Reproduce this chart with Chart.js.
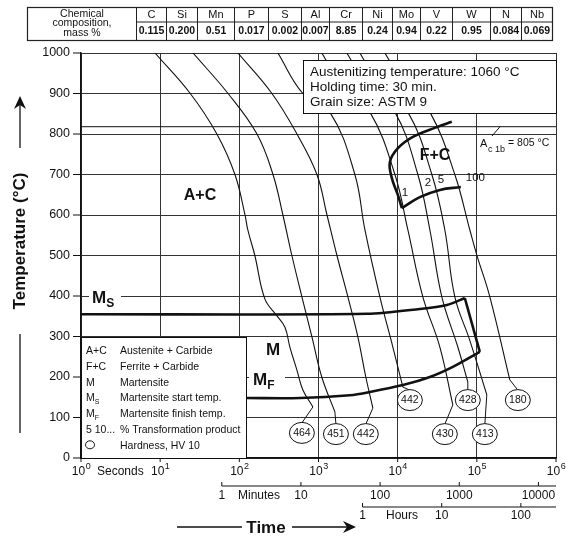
<!DOCTYPE html>
<html>
<head>
<meta charset="utf-8">
<script src="https://cdn.jsdelivr.net/npm/chart.js@4.4.1/dist/chart.umd.min.js"></script>
<style>
  html, body { margin: 0; padding: 0; background: #fff; }
  canvas { display: block; }
</style>
</head>
<body>
<canvas id="cct" width="567" height="538"></canvas>
<script>
// chemical composition table
const elements = ['C', 'Si', 'Mn', 'P', 'S', 'Al', 'Cr', 'Ni', 'Mo', 'V', 'W', 'N', 'Nb'];
const massPct = ['0.115', '0.200', '0.51', '0.017', '0.002', '0.007', '8.85', '0.24', '0.94', '0.22', '0.95', '0.084', '0.069'];

// axes
const tempTicks = [0, 100, 200, 300, 400, 500, 600, 700, 800, 900, 1000];
const timeDecades = [1, 10, 100, 1000, 10000, 100000, 1000000];
const minuteTicks = [1, 10, 100, 1000, 10000];
const hourTicks = [1, 10, 100];

// cooling curves, time in s, temperature in °C
const c464Time = [8.6, 24, 52, 88, 118, 128, 157, 210, 299, 377, 435, 534, 635, 850];
const c464Temp = [1000, 900, 800, 700, 600, 563, 500, 393, 351, 323, 274, 217, 168, 126];
const c451Time = [26, 72, 167, 266, 355, 461, 617, 826, 1100, 1610];
const c451Temp = [1000, 900, 800, 700, 600, 500, 398, 299, 200, 114];
const c442aTime = [96, 258, 534, 955, 1280, 1710, 2350, 3140, 3960, 4860];
const c442aTemp = [1000, 900, 800, 700, 600, 500, 398, 299, 200, 123];
const c442bTime = [307, 635, 1390, 2880, 3860, 5960, 8690, 11640];
const c442bTemp = [1000, 900, 854, 700, 563, 398, 274, 175];
const c430Time = [1100, 2280, 4460, 9230, 13460, 20800, 34120, 49770];
const c430Temp = [1000, 900, 854, 700, 563, 398, 274, 131];
const c428Time = [2280, 4720, 9230, 17990, 25530, 36140, 57540, 76920];
const c428Temp = [1000, 900, 854, 700, 563, 398, 274, 188];
const c413Time = [3330, 6890, 13460, 27040, 39440, 52720, 81660, 133700];
const c413Temp = [1000, 900, 854, 700, 563, 398, 290, 156];
const c180Time = [6890, 14260, 25530, 52720, 81660, 100000, 145900, 261000];
const c180Temp = [1000, 900, 854, 700, 563, 501, 398, 193];

// hardness HV 10 at the end of each curve
const hvValues = ['464', '451', '442', '442', '430', '428', '413', '180'];
const hvTime = [617, 1660, 3960, 14260, 39440, 76920, 126200, 329600];
const hvTemp = [62, 59, 59, 143, 59, 143, 59, 143];

// ferrite + carbide region
const fcStartTime = [48300, 31260, 15560, 10070, 7980, 8450, 10070, 11300];
const fcStartTemp = [830, 817, 793, 765, 731, 691, 649, 617];
const fcEndTime = [11300, 19050, 34120, 62800];
const fcEndTemp = [617, 644, 662, 669];
const pctLabels = ['1', '2', '5', '100'];
const pctTime = [11300, 22030, 32200, 72600];
const pctTemp = [654, 679, 686, 691];

// martensite start / finish
const msTime = [1, 4083, 19050, 41780, 70470];
const msTemp = [355, 356, 368, 378, 395];
const msEdgeTime = [70470, 109100];
const msEdgeTemp = [395, 262];
const mfTime = [109100, 49770, 25530, 11640, 4457, 2489, 582, 125];
const mfTemp = [262, 225, 200, 180, 163, 155, 148, 148];

const ac1bTime = [1, 1000000];
const ac1bTemp = [818, 818];

const FONT = "'Liberation Sans', Arial, sans-serif";

function pts(t, T) {
    return t.map((v, i) => ({ x: v, y: T[i] }));
}

function line(t, T, width, tension) {
    return {
        data: pts(t, T),
        borderColor: '#111',
        borderWidth: width,
        pointRadius: 0,
        tension: tension,
        fill: false
    };
}

const curves = [
    [c464Time, c464Temp], [c451Time, c451Temp], [c442aTime, c442aTemp], [c442bTime, c442bTemp],
    [c430Time, c430Temp], [c428Time, c428Temp], [c413Time, c413Temp], [c180Time, c180Temp]
];

const datasets = curves.map(c => line(c[0], c[1], 1.1, 0.4));
datasets.push(line(ac1bTime, ac1bTemp, 1, 0));
datasets.push(line(fcStartTime, fcStartTemp, 2.6, 0.4));
datasets.push(line(fcEndTime, fcEndTemp, 2.6, 0.4));
datasets.push(line(msTime, msTemp, 2.6, 0.3));
datasets.push(line(msEdgeTime, msEdgeTemp, 2.6, 0));
datasets.push(line(mfTime, mfTemp, 2.6, 0.3));

function txt(ctx, s, x, y, font, align, base) {
    ctx.font = font;
    ctx.textAlign = align || 'left';
    ctx.textBaseline = base || 'alphabetic';
    ctx.fillText(s, x, y);
}

// main letter followed by a lowered subscript
function sub(ctx, main, small, x, y, size, weight) {
    ctx.font = weight + ' ' + size + 'px ' + FONT;
    ctx.textAlign = 'left';
    ctx.textBaseline = 'alphabetic';
    ctx.fillText(main, x, y);
    const w = ctx.measureText(main).width;
    ctx.font = weight + ' ' + Math.round(size * 0.68) + 'px ' + FONT;
    ctx.fillText(small, x + w, y + size * 0.25);
}

function seg(ctx, x1, y1, x2, y2, w) {
    ctx.lineWidth = w || 1;
    ctx.beginPath();
    ctx.moveTo(x1, y1);
    ctx.lineTo(x2, y2);
    ctx.stroke();
}

const decorPlugin = {
    id: 'decor',
    afterDraw(chart) {
        const ctx = chart.ctx;
        const xs = chart.scales.x, ys = chart.scales.y;
        const area = chart.chartArea;
        ctx.save();
        ctx.fillStyle = '#111';
        ctx.strokeStyle = '#111';

        // y tick marks and labels
        tempTicks.forEach(v => {
            const y = ys.getPixelForValue(v);
            seg(ctx, area.left - 8, y, area.left, y, 1);
            txt(ctx, String(v), area.left - 11, y, '12.5px ' + FONT, 'right', 'middle');
        });

        // x decade labels 10^n
        timeDecades.forEach((v, i) => {
            const x = xs.getPixelForValue(v);
            seg(ctx, x, area.bottom, x, area.bottom + 4, 1);
            ctx.font = '12px ' + FONT;
            const w1 = ctx.measureText('10').width;
            ctx.font = '9px ' + FONT;
            const w2 = ctx.measureText(String(i)).width;
            const x0 = x - (w1 + w2) / 2;
            txt(ctx, '10', x0, 475, '12px ' + FONT);
            txt(ctx, String(i), x0 + w1 + 0.5, 469, '9px ' + FONT);
        });
        txt(ctx, 'Seconds', 97, 475, '12px ' + FONT);

        // minutes scale
        const mY = 486;
        seg(ctx, xs.getPixelForValue(60), mY, area.right, mY, 1);
        minuteTicks.forEach(m => {
            const x = xs.getPixelForValue(m * 60);
            seg(ctx, x, mY - 4, x, mY, 1);
            txt(ctx, String(m), x, 499, '12px ' + FONT, 'center');
        });
        txt(ctx, 'Minutes', 238, 499, '12px ' + FONT);

        // hours scale
        const hY = 507;
        seg(ctx, xs.getPixelForValue(3600), hY, area.right, hY, 1);
        hourTicks.forEach(h => {
            const x = xs.getPixelForValue(h * 3600);
            seg(ctx, x, hY - 4, x, hY, 1);
            txt(ctx, String(h), x, 519, '12px ' + FONT, 'center');
        });
        txt(ctx, 'Hours', 386, 519, '12px ' + FONT);

        // Time arrow
        txt(ctx, 'Time', 266, 533, 'bold 17px ' + FONT, 'center');
        seg(ctx, 177, 527, 242, 527, 1.3);
        seg(ctx, 292, 527, 348, 527, 1.3);
        ctx.beginPath();
        ctx.moveTo(356, 527); ctx.lineTo(343, 521); ctx.lineTo(347, 527); ctx.lineTo(343, 533);
        ctx.closePath(); ctx.fill();

        // Temperature axis title
        ctx.save();
        ctx.translate(20, 241);
        ctx.rotate(-Math.PI / 2);
        txt(ctx, 'Temperature (°C)', 0, 0, 'bold 17px ' + FONT, 'center', 'middle');
        ctx.restore();
        seg(ctx, 20, 148, 20, 104, 1.3);
        ctx.beginPath();
        ctx.moveTo(20, 96); ctx.lineTo(14, 109); ctx.lineTo(20, 105); ctx.lineTo(26, 109);
        ctx.closePath(); ctx.fill();
        seg(ctx, 20, 334, 20, 433, 1.3);

        // composition table
        const tl = 27, tr = 552, tt = 7, tm = 22, tb = 40;
        const cols = [136, 166, 197, 234, 268, 301, 329, 362, 392, 420, 452, 490, 521, 552];
        ctx.strokeStyle = '#222';
        ctx.lineWidth = 1.2;
        ctx.strokeRect(tl + 0.5, tt + 0.5, tr - tl, tb - tt);
        seg(ctx, cols[0], tm, tr, tm, 1);
        cols.slice(0, -1).forEach(x => seg(ctx, x + 0.5, tt, x + 0.5, tb, 1));
        txt(ctx, 'Chemical', 82, 14, '10.5px ' + FONT, 'center', 'middle');
        txt(ctx, 'composition,', 82, 23.5, '10.5px ' + FONT, 'center', 'middle');
        txt(ctx, 'mass %', 82, 33, '10.5px ' + FONT, 'center', 'middle');
        elements.forEach((e, i) => {
            const cx = (cols[i] + cols[i + 1]) / 2 + 0.5;
            txt(ctx, e, cx, 15, '11px ' + FONT, 'center', 'middle');
            txt(ctx, massPct[i], cx, 31.5, 'bold 10.5px ' + FONT, 'center', 'middle');
        });
        ctx.strokeStyle = '#111';

        // hardness leaders and circles
        curves.forEach((c, i) => {
            const n = c[0].length - 1;
            const x1 = xs.getPixelForValue(c[0][n]), y1 = ys.getPixelForValue(c[1][n]);
            const cx = xs.getPixelForValue(hvTime[i]), cy = ys.getPixelForValue(hvTemp[i]);
            seg(ctx, x1, y1, cx, cy - 10, 1);
        });
        hvValues.forEach((v, i) => {
            const cx = xs.getPixelForValue(hvTime[i]), cy = ys.getPixelForValue(hvTemp[i]);
            ctx.beginPath();
            ctx.ellipse(cx, cy, 12.5, 10.5, 0, 0, Math.PI * 2);
            ctx.fillStyle = '#fff';
            ctx.fill();
            ctx.lineWidth = 1;
            ctx.stroke();
            ctx.fillStyle = '#111';
            txt(ctx, v, cx, cy + 0.5, '10.5px ' + FONT, 'center', 'middle');
        });

        // info box
        ctx.fillStyle = '#fff';
        ctx.fillRect(303, 60, 253, 53);
        ctx.lineWidth = 1;
        ctx.strokeRect(303.5, 60.5, 253, 53);
        ctx.fillStyle = '#111';
        txt(ctx, 'Austenitizing temperature: 1060 °C', 310, 72, '13.5px ' + FONT, 'left', 'middle');
        txt(ctx, 'Holding time: 30 min.', 310, 87, '13.5px ' + FONT, 'left', 'middle');
        txt(ctx, 'Grain size: ASTM 9', 310, 102, '13.5px ' + FONT, 'left', 'middle');

        // Ac1b label
        seg(ctx, 492, 136, 500, ys.getPixelForValue(ac1bTemp[0]), 1);
        txt(ctx, 'A', 480, 147, '11px ' + FONT);
        txt(ctx, 'c 1b', 488, 152, '9px ' + FONT);
        txt(ctx, '= 805 °C', 508, 146, '10.5px ' + FONT);

        // region labels
        txt(ctx, 'A+C', 200, 196, 'bold 16px ' + FONT, 'center', 'middle');
        txt(ctx, 'F+C', 435, 156, 'bold 16px ' + FONT, 'center', 'middle');
        pctLabels.forEach((p, i) => {
            txt(ctx, p, xs.getPixelForValue(pctTime[i]), ys.getPixelForValue(pctTemp[i]), '11.5px ' + FONT, 'left', 'middle');
        });
        ctx.fillStyle = '#fff';
        ctx.fillRect(89, 288, 32, 20);
        ctx.fillRect(249, 368, 36, 20);
        ctx.fillStyle = '#111';
        sub(ctx, 'M', 'S', 92, 303, 17, 'bold');
        sub(ctx, 'M', 'F', 253, 385, 17, 'bold');
        txt(ctx, 'M', 273, 355, 'bold 17px ' + FONT, 'center');

        // legend box
        ctx.fillStyle = '#fff';
        ctx.fillRect(area.left, 337, 166, area.bottom - 337);
        ctx.lineWidth = 1;
        ctx.strokeRect(area.left + 0.5, 337.5, 165, area.bottom - 337);
        ctx.fillStyle = '#111';
        const lf = '10.5px ' + FONT;
        const rows = [
            ['A+C', 'Austenite + Carbide'],
            ['F+C', 'Ferrite + Carbide'],
            ['M', 'Martensite'],
            ['MS', 'Martensite start temp.'],
            ['MF', 'Martensite finish temp.'],
            ['5 10...', '% Transformation product'],
            ['o', 'Hardness, HV 10']
        ];
        rows.forEach((r, i) => {
            const y = 354 + i * 15.8;
            if (r[0] === 'MS' || r[0] === 'MF') {
                sub(ctx, 'M', r[0][1], 86, y, 10.5, '');
            } else if (r[0] === 'o') {
                ctx.beginPath();
                ctx.ellipse(90, y - 4, 4.5, 4, 0, 0, Math.PI * 2);
                ctx.lineWidth = 1;
                ctx.stroke();
            } else {
                txt(ctx, r[0], 86, y, lf);
            }
            txt(ctx, r[1], 120, y, lf);
        });

        ctx.restore();
    }
};

new Chart(document.getElementById('cct'), {
    type: 'line',
    data: { datasets: datasets },
    options: {
        responsive: false,
        animation: false,
        layout: { padding: { left: 81, top: 53, right: 11, bottom: 80 } },
        plugins: { legend: { display: false }, tooltip: { enabled: false } },
        scales: {
            x: {
                type: 'logarithmic',
                min: 1,
                max: 1000000,
                afterBuildTicks: s => { s.ticks = timeDecades.map(v => ({ value: v })); },
                afterFit: s => { s.height = 0; },
                ticks: { display: false },
                grid: { color: '#333', lineWidth: 1, drawTicks: false },
                border: { color: '#111', width: 1.5 }
            },
            y: {
                min: 0,
                max: 1000,
                afterBuildTicks: s => { s.ticks = tempTicks.map(v => ({ value: v })); },
                afterFit: s => { s.width = 0; },
                ticks: { display: false },
                grid: { color: '#333', lineWidth: 1, drawTicks: false },
                border: { color: '#111', width: 1.5 }
            }
        }
    },
    plugins: [decorPlugin]
});
</script>
</body>
</html>
